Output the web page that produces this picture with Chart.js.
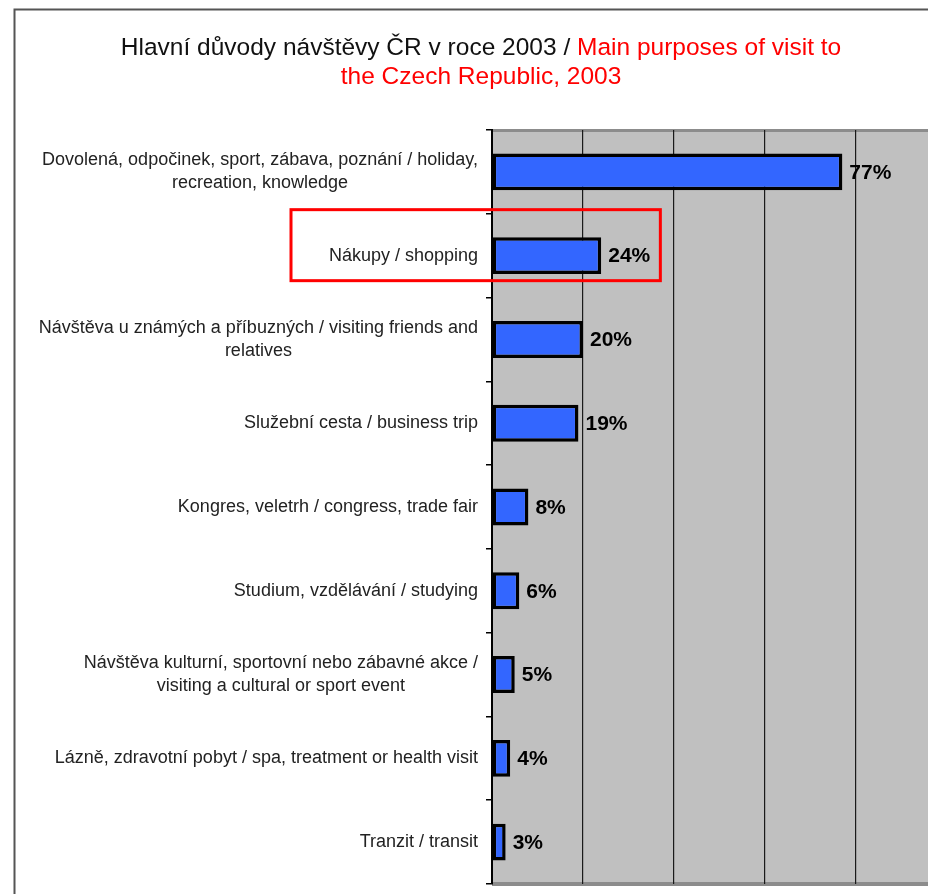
<!DOCTYPE html>
<html>
<head>
<meta charset="utf-8">
<script src="https://cdn.jsdelivr.net/npm/chart.js@4.4.1/dist/chart.umd.min.js"></script>
<style>
  html, body { margin: 0; padding: 0; background: #fff; overflow: hidden; }
  #wrap { position: relative; width: 928px; height: 894px; overflow: hidden; }
  canvas { position: absolute; left: 0; top: 0; }
</style>
</head>
<body>
<div id="wrap"><canvas id="purposeChart" width="947" height="894"></canvas></div>
<script>
// Hlavní důvody návštěvy ČR v roce 2003
const categories = [
  ['Dovolená, odpočinek, sport, zábava, poznání / holiday,', 'recreation, knowledge'],
  ['Nákupy / shopping'],
  ['Návštěva u známých a příbuzných / visiting friends and', 'relatives'],
  ['Služební cesta / business trip'],
  ['Kongres, veletrh / congress, trade fair'],
  ['Studium, vzdělávání / studying'],
  ['Návštěva kulturní, sportovní nebo zábavné akce /', 'visiting a cultural or sport event'],
  ['Lázně, zdravotní pobyt / spa, treatment or health visit'],
  ['Tranzit / transit']
];
const shares = [77, 24, 20, 19, 8, 6, 5, 4, 3];
const titleBlack = 'Hlavní důvody návštěvy ČR v roce 2003 / ';
const titleRed1 = 'Main purposes of visit to';
const titleRed2 = 'the Czech Republic, 2003';
const highlighted = 1; // shopping

const FONT = '"Liberation Sans", Arial, sans-serif';

const framePlugin = {
  id: 'frame',
  beforeDraw(chart) {
    const c = chart.ctx, a = chart.chartArea;
    c.save();
    // outer frame
    c.strokeStyle = '#555';
    c.lineWidth = 2;
    c.beginPath();
    c.moveTo(14.5, 894);
    c.lineTo(14.5, 9.5);
    c.lineTo(chart.width, 9.5);
    c.stroke();
    // plot background
    c.fillStyle = '#c0c0c0';
    c.fillRect(a.left, a.top, a.right - a.left, a.bottom - a.top);
    c.fillStyle = '#8c8c8c';
    c.fillRect(a.left, a.top - 1, a.right - a.left, 3);
    c.fillRect(a.left, a.bottom - 2, a.right - a.left, 4);
    c.restore();
  },
  afterDraw(chart) {
    const c = chart.ctx;
    c.save();
    // title
    c.font = '24.5px ' + FONT;
    c.textBaseline = 'middle';
    const w1 = c.measureText(titleBlack).width, w2 = c.measureText(titleRed1).width;
    const cx = 481;
    let x = cx - (w1 + w2) / 2;
    c.textAlign = 'left';
    c.fillStyle = '#111';
    c.fillText(titleBlack, x, 48);
    c.fillStyle = '#ff0000';
    c.fillText(titleRed1, x + w1, 48);
    c.textAlign = 'center';
    c.fillText(titleRed2, cx, 77);

    // category labels: block right-aligned, lines centered within block
    const y = chart.scales.y;
    c.font = '18px ' + FONT;
    c.fillStyle = '#222';
    const right = y.right - 14;
    categories.forEach((lines, i) => {
      const bw = Math.max(...lines.map(l => c.measureText(l).width));
      const mid = right - bw / 2;
      const py = y.getPixelForValue(i);
      const lh = 23;
      lines.forEach((l, k) => {
        c.fillText(l, mid, py + (k - (lines.length - 1) / 2) * lh);
      });
    });

    // value labels
    const meta = chart.getDatasetMeta(0);
    c.font = 'bold 21px ' + FONT;
    c.fillStyle = '#000';
    c.textAlign = 'left';
    meta.data.forEach((bar, i) => {
      c.fillText(shares[i] + '%', bar.x + 7, bar.y + 1);
    });

    // red highlight box around shopping
    const xs = chart.scales.x;
    const hy = y.getPixelForValue(highlighted);
    c.strokeStyle = '#ff0000';
    c.lineWidth = 3;
    c.strokeRect(chart.chartArea.left - 201, hy - 46, xs.getPixelForValue(37) - chart.chartArea.left + 201, 71);
    c.restore();
  }
};

new Chart(document.getElementById('purposeChart'), {
  type: 'bar',
  data: {
    labels: categories,
    datasets: [{
      data: shares,
      backgroundColor: '#3366ff',
      borderColor: '#000',
      borderWidth: 3.5,
      borderSkipped: false,
      categoryPercentage: 1,
      barPercentage: 0.44
    }]
  },
  options: {
    indexAxis: 'y',
    responsive: false,
    animation: false,
    devicePixelRatio: 1,
    layout: { padding: { left: 0, top: 130, right: 0, bottom: 10 } },
    plugins: { legend: { display: false }, title: { display: false }, tooltip: { enabled: false } },
    scales: {
      x: {
        min: 0, max: 100,
        ticks: { display: false, stepSize: 20 },
        grid: { color: '#1a1a1a', lineWidth: 1.2, drawTicks: false },
        border: { display: false },
        afterFit(s) { s.height = 0; }
      },
      y: {
        ticks: { display: false },
        grid: { offset: true, drawOnChartArea: false, drawTicks: true, tickLength: 6, color: '#000', lineWidth: 1.5 },
        border: { color: '#000', width: 2 },
        afterFit(s) { s.width = 492; }
      }
    }
  },
  plugins: [framePlugin]
});
</script>
</body>
</html>
